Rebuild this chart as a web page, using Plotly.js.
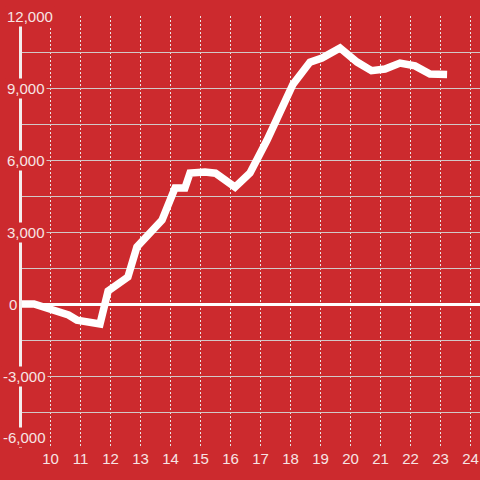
<!DOCTYPE html>
<html>
<head>
<meta charset="utf-8">
<script src="https://cdn.plot.ly/plotly-3.0.1.min.js"></script>
<style>html,body{margin:0;padding:0;background:#cc2a2e;}#chart{width:480px;height:480px;}</style>
</head>
<body>
<div id="chart"></div>
<script>
var xValues = [9.0, 9.45, 10.6, 10.88, 11.65, 11.92, 12.58, 12.88, 13.72, 14.15, 14.48, 14.65, 15.15, 15.5, 16.15, 16.65, 17.22, 17.65, 18.08, 18.65, 19.05, 19.65, 20.22, 20.7, 21.15, 21.65, 22.15, 22.65, 23.22];
var yValues = [0, 0, -460, -670, -830, 540, 1125, 2375, 3500, 4830, 4830, 5460, 5500, 5450, 4870, 5460, 6830, 7950, 9150, 10080, 10250, 10670, 10080, 9720, 9790, 10040, 9920, 9580, 9560];
var yTickValues = [12000, 9000, 6000, 3000, 0, -3000, -6000];
var yTickLabels = ['12,000', '9,000', '6,000', '3,000', '0', '-3,000', '-6,000'];
var xTickValues = [10, 11, 12, 13, 14, 15, 16, 17, 18, 19, 20, 21, 22, 23, 24];

var BG = '#cc2a2e';
var TXT = '#f7e4e4';
var FONT = 'Liberation Sans, Arial, sans-serif';

var annotations = yTickValues.map(function (v, i) {
  var lbl = yTickLabels[i];
  var neg = lbl.charAt(0) === '-';
  var left = neg ? 1 : (lbl === '0' ? 7 : 5);
  var last = i === yTickValues.length - 1;
  return {
    xref: 'paper', yref: 'y', x: (left - 22) / 458, y: v,
    xanchor: 'left', yanchor: last ? 'bottom' : 'middle', showarrow: false,
    text: lbl, bgcolor: BG, borderpad: 1,
    font: {family: FONT, size: 15, color: TXT}
  };
});

var trace = {
  x: xValues, y: yValues, type: 'scatter', mode: 'lines',
  line: {color: '#ffffff', width: 7.5}, hoverinfo: 'none'
};

var layout = {
  width: 480, height: 480,
  margin: {l: 22, r: 0, t: 16, b: 32},
  paper_bgcolor: BG, plot_bgcolor: BG,
  showlegend: false,
  xaxis: {
    range: [9.05, 24.317], tickvals: xTickValues, ticks: '',
    showgrid: true, gridcolor: '#ebe4e4', gridwidth: 1, griddash: '2px,2px',
    zeroline: false, showline: false,
    tickfont: {family: FONT, size: 15, color: TXT}
  },
  yaxis: {
    range: [-6000, 12000], dtick: 1500, tick0: 0, ticks: '',
    showticklabels: false,
    showgrid: true, gridcolor: '#d2c8c8', gridwidth: 1,
    zeroline: true, zerolinecolor: '#ffffff', zerolinewidth: 3,
    showline: true, linecolor: '#f4eeee', linewidth: 3
  },
  annotations: annotations
};

Plotly.newPlot('chart', [trace], layout, {displayModeBar: false, staticPlot: true});
</script>
</body>
</html>
